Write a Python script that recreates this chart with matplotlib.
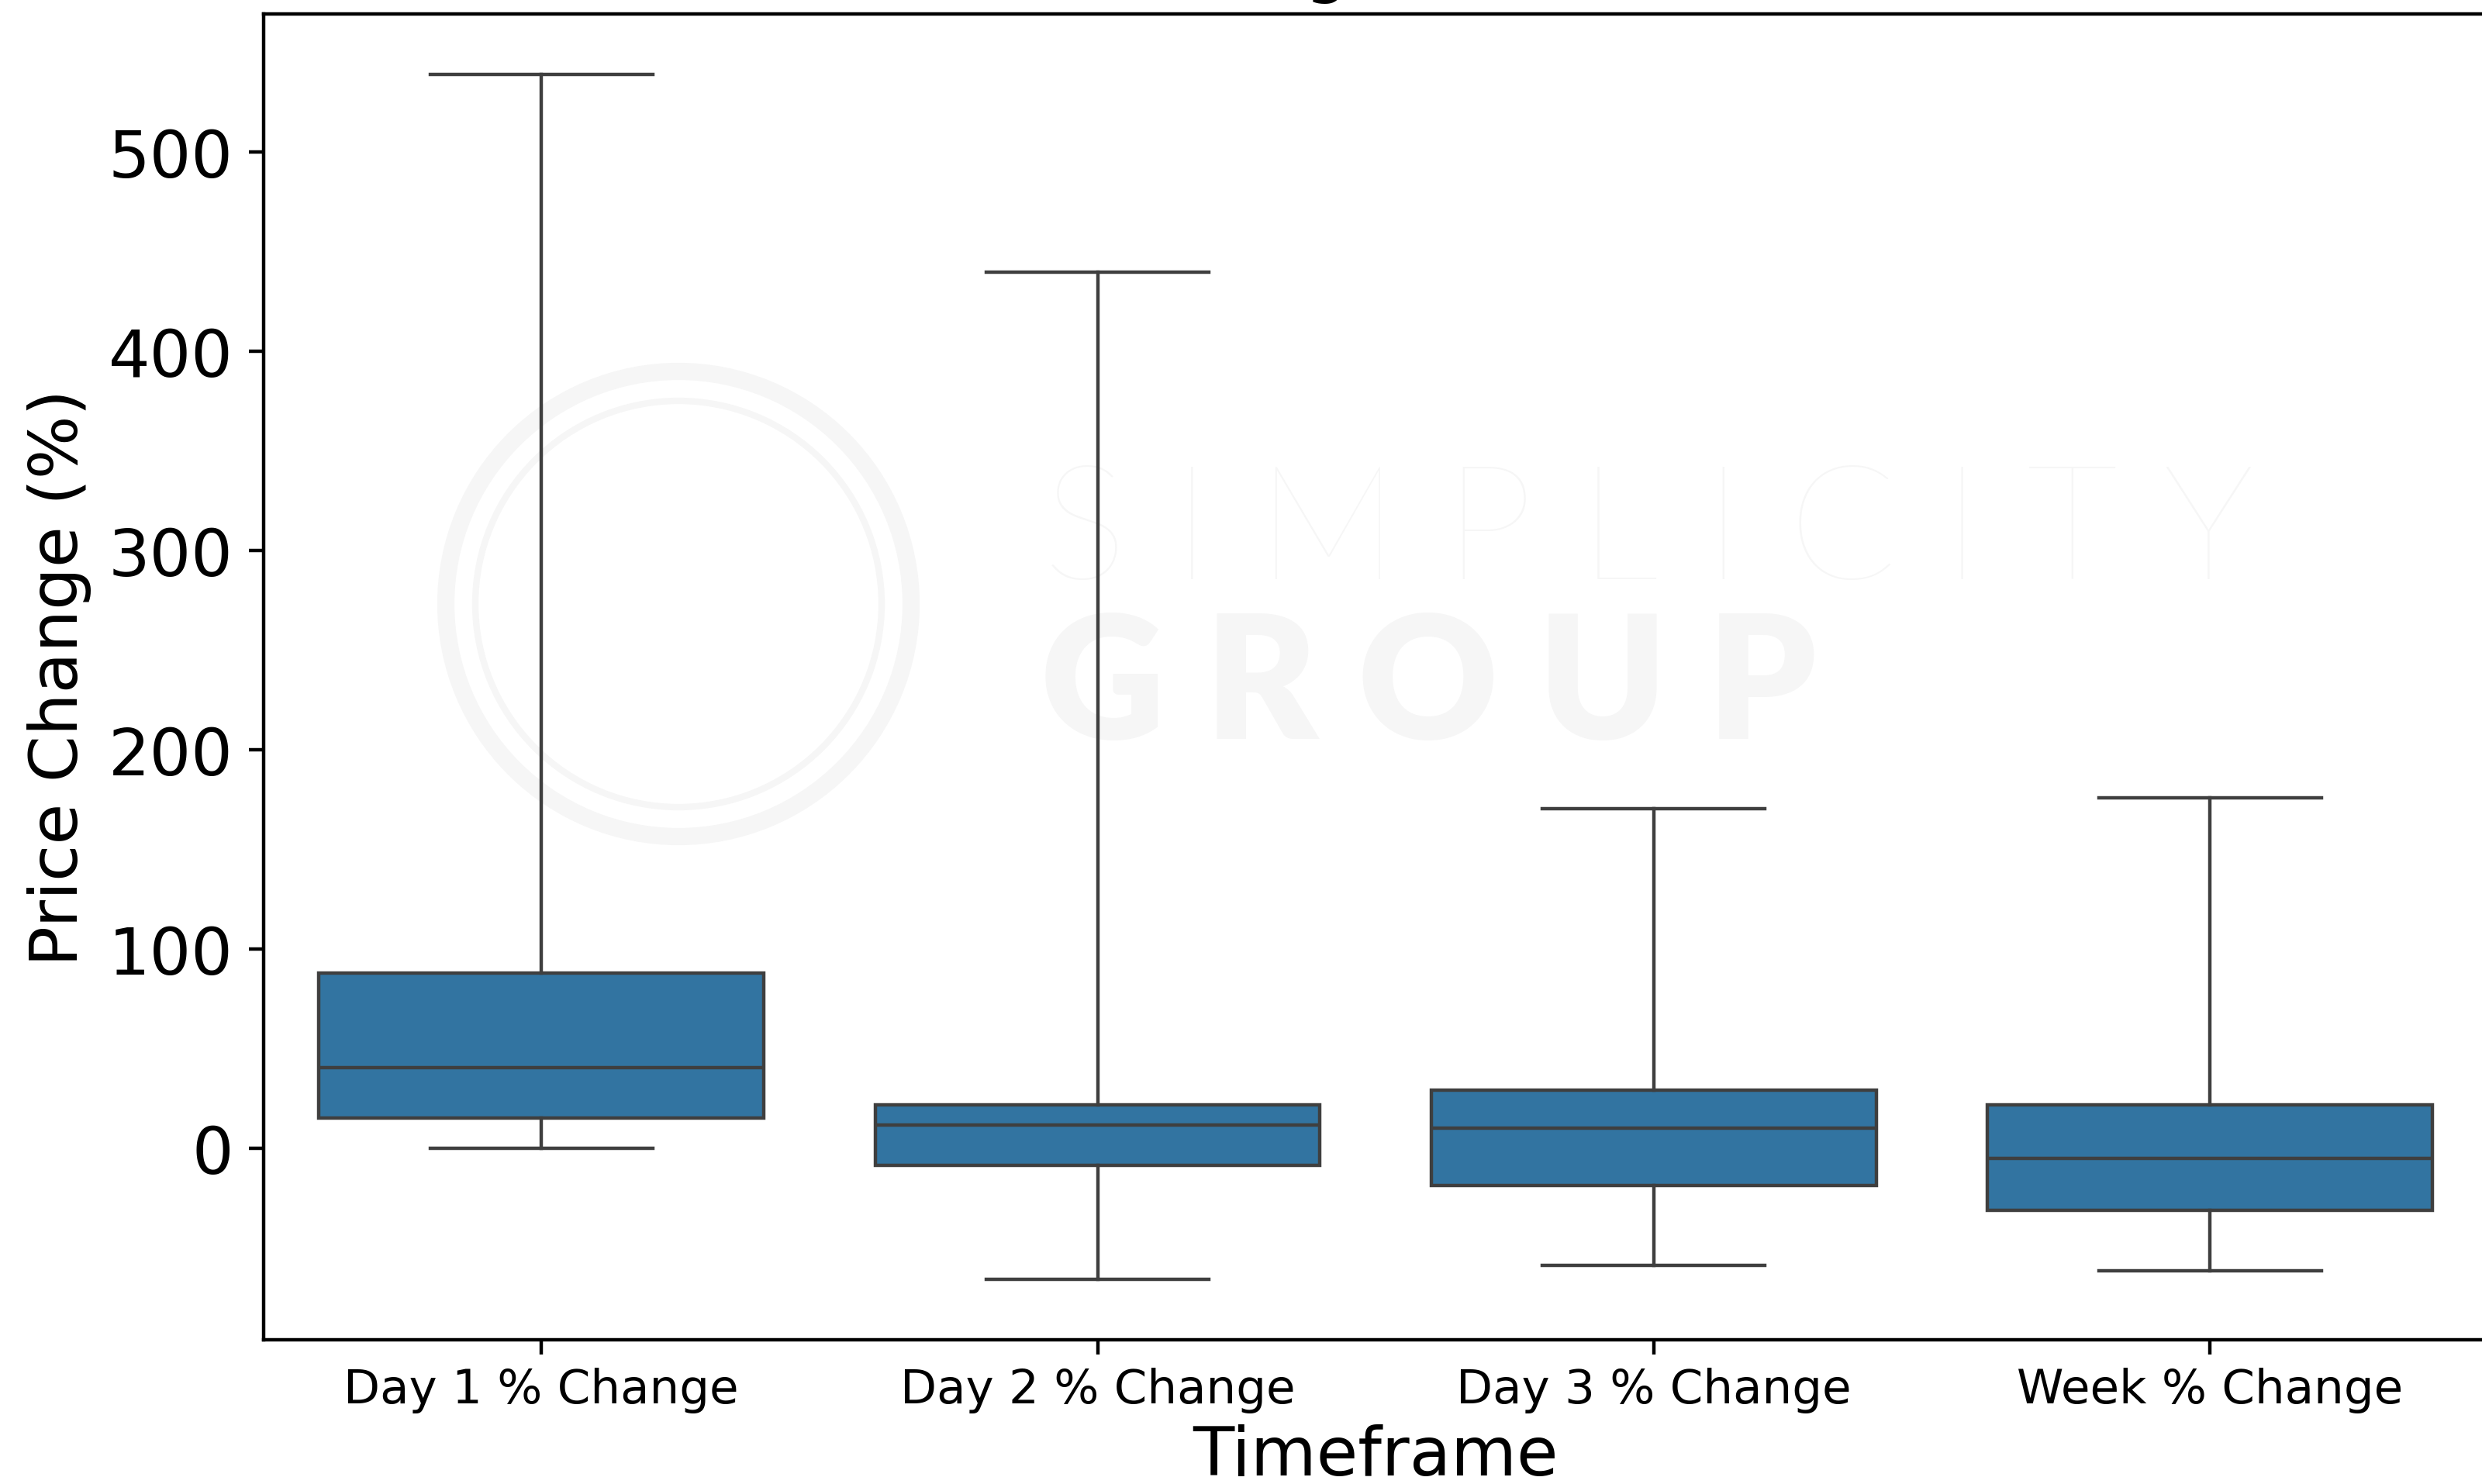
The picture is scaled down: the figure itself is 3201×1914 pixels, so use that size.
import matplotlib
matplotlib.use("Agg")
import matplotlib.pyplot as plt
from matplotlib.patches import Circle
from matplotlib.transforms import IdentityTransform

# Box statistics per timeframe (price change, %)
timeframes = ["Day 1 % Change", "Day 2 % Change", "Day 3 % Change", "Week % Change"]
whisker_low = [0.0, -66.0, -59.0, -61.5]
q1 = [15.0, -8.6, -18.8, -31.4]
median = [40.5, 11.5, 10.1, -5.3]
q3 = [88.0, 21.7, 28.9, 21.8]
whisker_high = [539.0, 439.5, 170.2, 175.9]

BOX_COLOR = "#3274a1"
LINE_COLOR = "#3f3f3f"
LW = 0.8

DPI = 400
fig = plt.figure(figsize=(3201 / DPI, 1915 / DPI), dpi=DPI)
ax = fig.add_axes([0.1061, 0.0971, 0.8963, 0.8930])

stats = []
for i, name in enumerate(timeframes):
    stats.append({
        "label": name,
        "whislo": whisker_low[i],
        "q1": q1[i],
        "med": median[i],
        "q3": q3[i],
        "whishi": whisker_high[i],
        "fliers": [],
    })

ax.bxp(
    stats,
    positions=range(len(timeframes)),
    widths=0.8,
    capwidths=0.4,
    patch_artist=True,
    showfliers=False,
    boxprops=dict(facecolor=BOX_COLOR, edgecolor=LINE_COLOR, linewidth=LW),
    medianprops=dict(color=LINE_COLOR, linewidth=LW),
    whiskerprops=dict(color=LINE_COLOR, linewidth=LW),
    capprops=dict(color=LINE_COLOR, linewidth=LW),
)
ax.set_xlim(-0.5, len(timeframes) - 0.5)

ax.set_title("Price Change Distribution", fontsize=16)
ax.set_xlabel("Timeframe", fontsize=15.7, labelpad=2.5)
ax.set_ylabel("Price Change (%)", fontsize=15.5)
ax.tick_params(axis="x", labelsize=11, pad=2.8)
ax.tick_params(axis="y", labelsize=15.2)

# faint company watermark behind the boxes
wm = "#f6f6f6"
ax.text(1345, 1915 - 747, "S I M P L I C I T Y", transform=IdentityTransform(),
        fontsize=37, fontfamily="Lato", fontweight="light", color=wm,
        ha="left", va="baseline", zorder=0.5)
ax.text(1342, 1915 - 953, "G R O U P", transform=IdentityTransform(),
        fontsize=40, fontfamily="Lato", fontweight="heavy", color=wm,
        ha="left", va="baseline", zorder=0.5)
for r, w in [(300, 4), (262, 1.5)]:
    ax.add_patch(Circle((875, 1915 - 780), r, transform=IdentityTransform(),
                        fill=False, edgecolor=wm, linewidth=w, zorder=0.5))

fig.savefig("out.png", dpi=DPI)
plt.close(fig)
